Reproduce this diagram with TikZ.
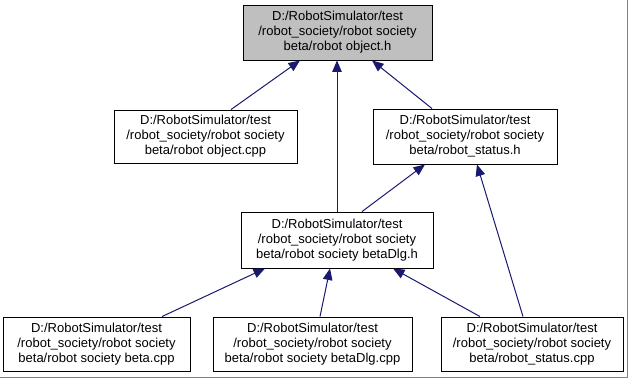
\documentclass[tikz,border=0pt]{standalone}
\usepackage{fontspec}
\setmainfont{Liberation Sans}
\usetikzlibrary{arrows.meta}

\definecolor{edgeblue}{HTML}{191970}
\definecolor{focusgray}{HTML}{BFBFBF}

\begin{document}
\begin{tikzpicture}[x=1bp,y=-1bp,
  file/.style={draw, line width=0.9bp, align=center, inner sep=0pt,
    font=\fontsize{13bp}{15bp}\selectfont},
  inc/.style={draw=edgeblue, line width=1bp,
    -{Triangle[length=11.5bp,width=9.5bp,fill=edgeblue]}}]
\useasboundingbox (0,0) rectangle (629,379);

% header being documented
\node[file, fill=focusgray, minimum width=189bp, minimum height=55bp] (objh) at (337.5,32.5) {D:/RobotSimulator/test\\/robot\_society/robot society\\beta/robot object.h};

% files that include it
\node[file, minimum width=183bp, minimum height=53bp] (objcpp) at (205.5,136.5) {D:/RobotSimulator/test\\/robot\_society/robot society\\beta/robot object.cpp};
\node[file, minimum width=184bp, minimum height=55bp] (stath) at (465,136.5) {D:/RobotSimulator/test\\/robot\_society/robot society\\beta/robot\_status.h};
\node[file, minimum width=192bp, minimum height=56bp] (dlgh) at (337,240) {D:/RobotSimulator/test\\/robot\_society/robot society\\beta/robot society betaDlg.h};
\node[file, minimum width=187bp, minimum height=54bp] (betacpp) at (96.5,344) {D:/RobotSimulator/test\\/robot\_society/robot society\\beta/robot society beta.cpp};
\node[file, minimum width=199bp, minimum height=54bp] (dlgcpp) at (312.5,344) {D:/RobotSimulator/test\\/robot\_society/robot society\\beta/robot society betaDlg.cpp};
\node[file, minimum width=182bp, minimum height=54bp] (statcpp) at (532,344) {D:/RobotSimulator/test\\/robot\_society/robot society\\beta/robot\_status.cpp};

% include edges
\draw[inc] ([xshift=25.5bp]objcpp.north) -- ([xshift=-37.5bp]objh.south);
\draw[inc] (dlgh.north) -- (dlgh.north |- objh.south);
\draw[inc] ([xshift=-33bp]stath.north) -- ([xshift=34.5bp]objh.south);
\draw[inc] ([xshift=25bp]dlgh.north) -- ([xshift=-40bp]stath.south);
\draw[inc] ([xshift=-9bp]statcpp.north) -- ([xshift=12bp]stath.south);
\draw[inc] ([xshift=65.5bp]betacpp.north) -- ([xshift=-72bp]dlgh.south);
\draw[inc] ([xshift=7.5bp]dlgcpp.north) -- ([xshift=-7bp]dlgh.south);
\draw[inc] ([xshift=-52bp]statcpp.north) -- ([xshift=56bp]dlgh.south);

% frame
\draw[gray, line width=1.5bp] (0,377.5) -- (627.5,377.5) -- (627.5,0);
\end{tikzpicture}
\end{document}
